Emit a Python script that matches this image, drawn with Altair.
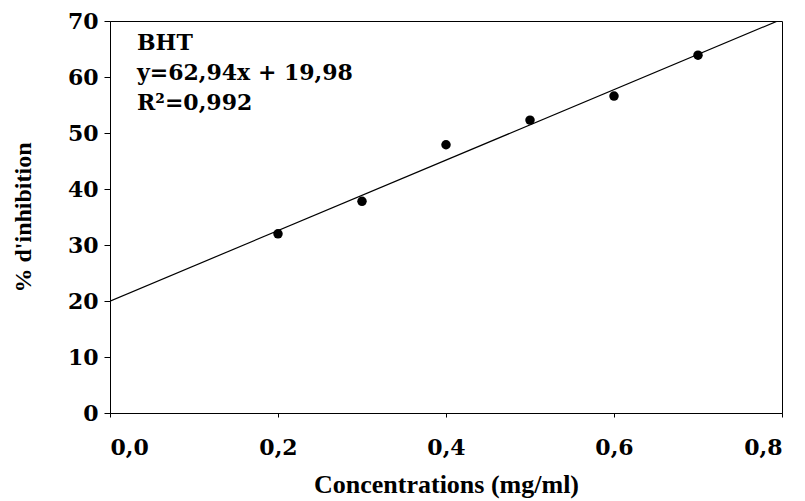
import altair as alt
import pandas as pd

# Data
conc = [0.2, 0.3, 0.4, 0.5, 0.6, 0.7]
inhibition = [32.0, 37.8, 47.9, 52.3, 56.6, 63.9]
slope = 62.94
intercept = 19.98
fit_x = [0.0, 0.8]
x_ticks = [0.0, 0.2, 0.4, 0.6, 0.8]
y_ticks = [0, 10, 20, 30, 40, 50, 60, 70]
annot_lines = ["BHT", "y=62,94x + 19,98", "R²=0,992"]

W, H = 672, 392
FONT = "DejaVu Serif"
TFONT = "Liberation Serif"

pts = pd.DataFrame({"x": conc, "y": inhibition})
fit = pd.DataFrame({"x": fit_x, "y": [slope * v + intercept for v in fit_x]})
ann = pd.DataFrame({"t": ["\n".join(annot_lines)]})

xscale = alt.Scale(domain=[0, 0.8], nice=False, zero=True)
yscale = alt.Scale(domain=[0, 70], nice=False)

xaxis = alt.Axis(
    values=x_ticks,
    labelExpr="replace(format(datum.value, '.1f'), '.', ',')",
    title="Concentrations (mg/ml)",
    grid=False,
    tickSize=4,
    labelPadding=20,
    titlePadding=13,
    labelFont=FONT, labelFontSize=22, labelFontWeight="bold", labelColor="black",
    titleFont=TFONT, titleFontSize=26, titleFontWeight="bold", titleColor="black",
    domainColor="black", tickColor="black",
)
yaxis = alt.Axis(
    values=y_ticks,
    title="% d'inhibition",
    grid=False,
    tickSize=6,
    labelPadding=6,
    titlePadding=32,
    labelFont=FONT, labelFontSize=22, labelFontWeight="bold", labelColor="black",
    titleFont=TFONT, titleFontSize=24, titleFontWeight="bold", titleColor="black",
    domainColor="black", tickColor="black",
)

line = alt.Chart(fit).mark_line(color="black", strokeWidth=1.2, clip=True).encode(
    x=alt.X("x:Q", scale=xscale, axis=xaxis),
    y=alt.Y("y:Q", scale=yscale, axis=yaxis),
)

points = alt.Chart(pts).mark_point(
    shape="circle", filled=True, color="black", opacity=1, size=90
).encode(
    x=alt.X("x:Q", scale=xscale),
    y=alt.Y("y:Q", scale=yscale),
)

text = alt.Chart(ann).mark_text(
    align="left", baseline="middle", font=FONT, fontSize=22, fontWeight="bold",
    color="black", lineBreak="\n", lineHeight=30,
).encode(
    x=alt.value(27),
    y=alt.value(22),
    text="t:N",
)

chart = alt.layer(line, points, text).properties(
    width=W,
    height=H,
    background="white",
    autosize=alt.AutoSizeParams(type="none"),
    padding={"left": 102, "top": 13, "right": 15, "bottom": 88},
).configure_view(stroke="black", strokeWidth=1)

chart.save("out.html", embed_options={"renderer": "svg", "actions": False})
